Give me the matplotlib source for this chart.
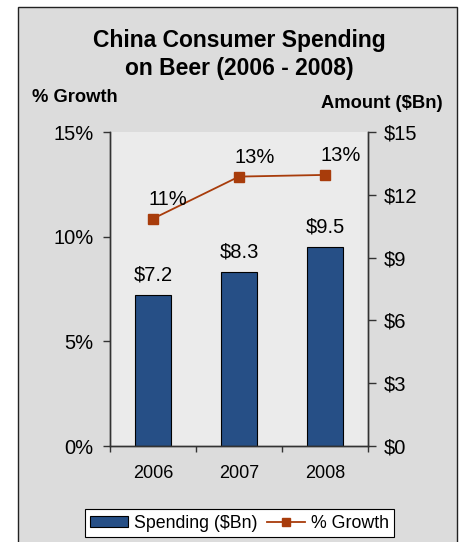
import matplotlib
matplotlib.use("Agg")
import matplotlib.pyplot as plt
from matplotlib.patches import Rectangle, Patch
from matplotlib.lines import Line2D

years = ["2006", "2007", "2008"]
spending = [7.2, 8.3, 9.5]
growth = [10.86, 12.87, 12.95]
spend_labels = ["$7.2", "$8.3", "$9.5"]
growth_labels = ["11%", "13%", "13%"]
pct_ticks = [0, 5, 10, 15]
usd_ticks = [0, 3, 6, 9, 12, 15]

plt.rcParams['font.family'] = ['Liberation Sans', 'DejaVu Sans']

BAR = "#264F86"
LINE = "#A83C0B"
OUTER = "#DCDCDC"
INNER = "#EBEBEB"

fig = plt.figure(figsize=(4.6, 5.42), dpi=100)
fig.patch.set_facecolor("white")
fig.add_artist(Rectangle((18/460, -0.05), (457-18)/460, 1 - 7/542 + 0.05,
                         transform=fig.transFigure, facecolor=OUTER,
                         edgecolor="#222222", linewidth=1.0, zorder=0))

ax = fig.add_axes([110/460, 1 - 446/542, (368-110)/460, (446-132)/542])
ax2 = ax.twinx()

x = list(range(len(years)))
ax2.bar(x, spending, width=0.42, color=BAR, edgecolor="black", linewidth=0.8, zorder=2)
ax2.set_ylim(0, 15)
ax2.set_yticks(usd_ticks)
ax2.set_yticklabels([f"${v}" for v in usd_ticks], fontsize=14.5)
for xi, v, lab in zip(x, spending, spend_labels):
    ax2.annotate(lab, (xi, v), xytext=(0, 8), textcoords="offset points",
                 ha="center", va="bottom", fontsize=14.5)

ax.set_zorder(ax2.get_zorder() + 1)
ax.patch.set_visible(False)
ax2.patch.set_visible(True)
ax2.patch.set_facecolor(INNER)

ax.plot(x, growth, color=LINE, linewidth=1.3, marker="s", markersize=6.5,
        markerfacecolor=LINE, markeredgecolor=LINE, zorder=3)
for xi, v, lab in zip(x, growth, growth_labels):
    ax.annotate(lab, (xi, v), xytext=(11, 7), textcoords="offset points",
                ha="center", va="bottom", fontsize=14.5)
ax.set_ylim(0, 15)
ax.set_yticks(pct_ticks)
ax.set_yticklabels([f"{v}%" for v in pct_ticks], fontsize=14.5)
ax.set_xlim(-0.5, 2.5)
ax.set_xticks(x)
ax.set_xticklabels(years, fontsize=13)
ax.set_xticks([-0.5, 0.5, 1.5, 2.5], minor=True)
ax.tick_params(axis="x", which="major", length=0, pad=14)
ax.tick_params(axis="x", which="minor", length=4.5, width=1, color="#333333")
ax.tick_params(axis="y", length=5, width=1, color="#333333", pad=7)
ax2.tick_params(axis="y", length=6, width=1, color="#333333", pad=5)

for a in (ax, ax2):
    a.spines["top"].set_visible(False)
    for s in ("left", "right", "bottom"):
        a.spines[s].set_color("#333333")
        a.spines[s].set_linewidth(1.0)

fig.text(0.52, 1 - 40/542, "China Consumer Spending", ha="center", va="center",
         fontsize=16.5, fontweight="bold")
fig.text(0.52, 1 - 68/542, "on Beer (2006 - 2008)", ha="center", va="center",
         fontsize=16.5, fontweight="bold")
fig.text(32/460, 1 - 98/542, "% Growth", ha="left", va="center", fontsize=13.2, fontweight="bold")
fig.text(443/460, 1 - 103/542, "Amount ($Bn)", ha="right", va="center", fontsize=13.2, fontweight="bold")

handles = [Patch(facecolor=BAR, edgecolor="black", linewidth=0.8),
           Line2D([0], [0], color=LINE, linewidth=1.3, marker="s", markersize=6,
                  markerfacecolor=LINE, markeredgecolor=LINE)]
leg = fig.legend(handles, ["Spending ($Bn)", "% Growth"], loc="center",
                 bbox_to_anchor=(239.5/460, 1 - 523/542), ncol=2, fontsize=12.8,
                 frameon=True, fancybox=False, framealpha=1, edgecolor="black",
                 handlelength=2.15, handleheight=0.6, columnspacing=0.5,
                 handletextpad=0.35, borderpad=0.3, borderaxespad=0)
leg.get_frame().set_linewidth(0.8)

fig.savefig("out.png", dpi=100, facecolor="white")
